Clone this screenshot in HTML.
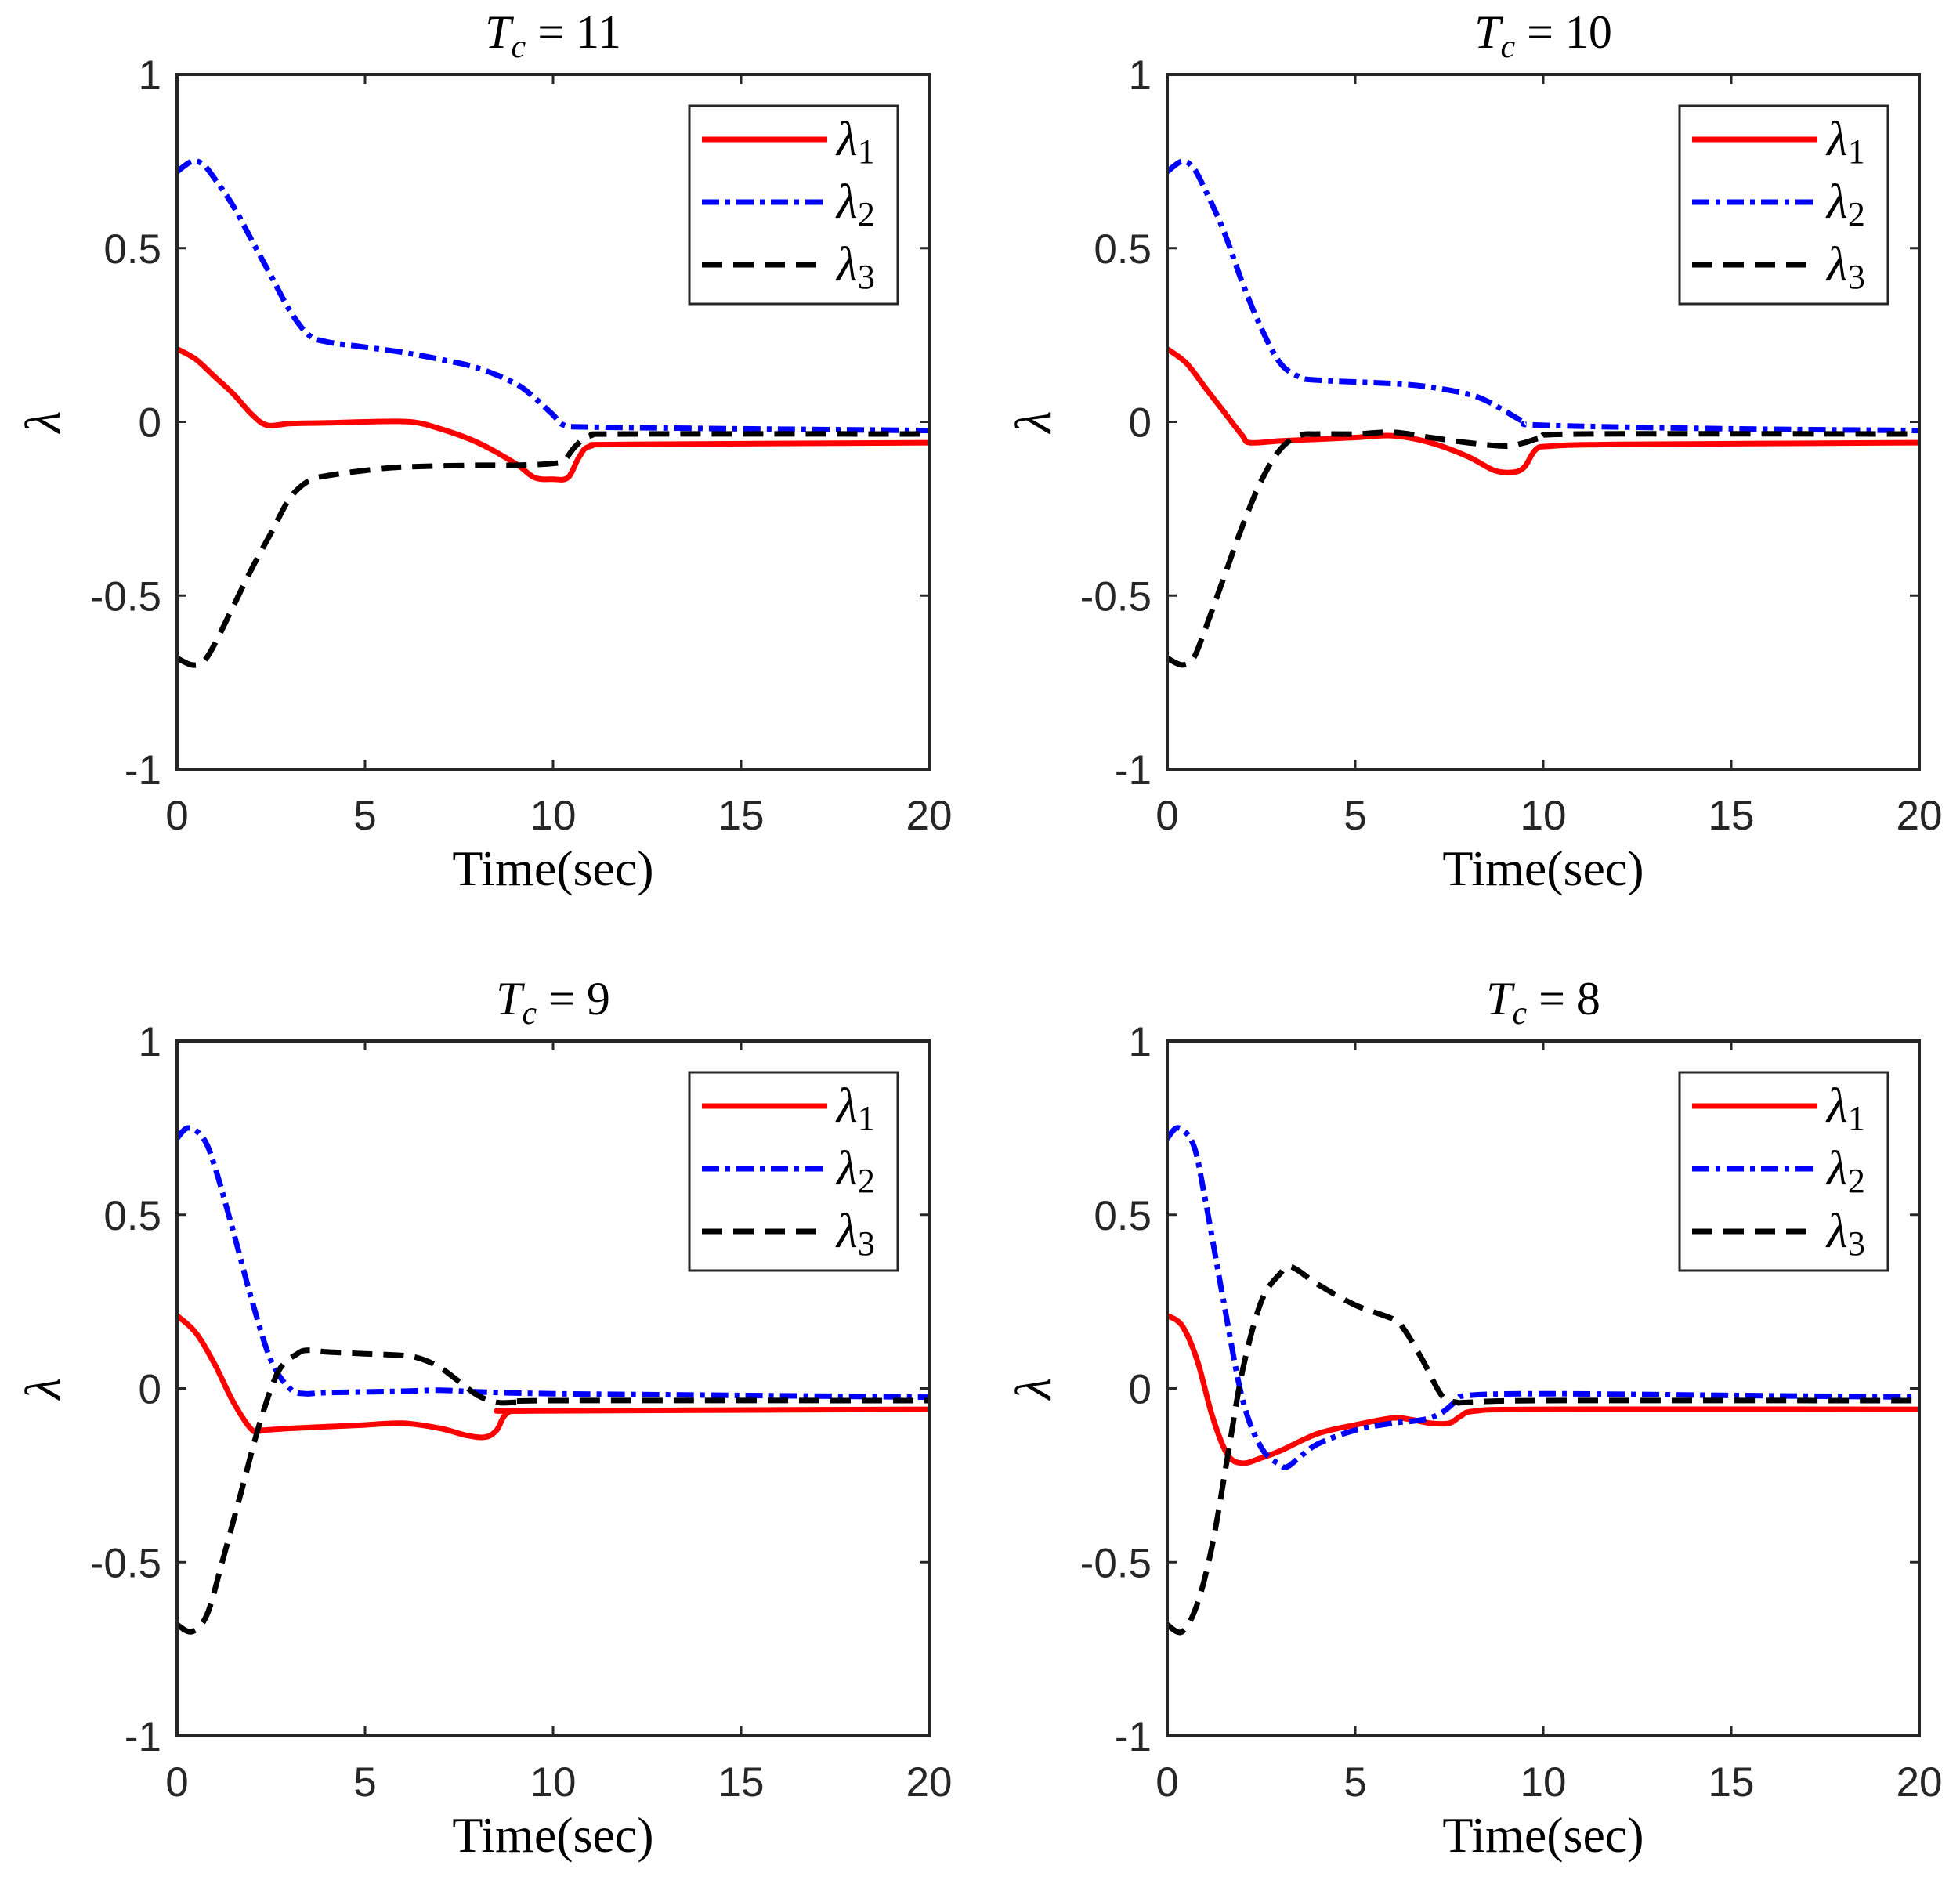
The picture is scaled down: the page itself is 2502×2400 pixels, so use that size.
<!DOCTYPE html>
<html><head><meta charset="utf-8"><style>
html,body{margin:0;padding:0;background:#fff;}
svg{display:block;}
text{font-family:"Liberation Sans",sans-serif;fill:#262626;}
.serif{font-family:"Liberation Serif",serif;fill:#000;}
</style></head><body>
<svg id="fig" width="2502" height="2400" viewBox="0 0 2502 2400" xmlns="http://www.w3.org/2000/svg"></svg>
<script>
const titles = ["11","10","9","8"];
const xTicks = [0,5,10,15,20];
const yTicks = [-1,-0.5,0,0.5,1];
const yTickLabels = ["-1","-0.5","0","0.5","1"];
// panel 1 (Tc=11)
const p1_l1 = [[0,0.21],[0.5,0.18],[1,0.13],[1.5,0.08],[2,0.02],[2.4,-0.01],[3,-0.005],[4,-0.003],[5,0],[6.2,0],[7,-0.02],[8,-0.06],[9,-0.12],[9.5,-0.16],[10,-0.165],[10.4,-0.16],[10.7,-0.1],[11,-0.07],[12,-0.065],[20,-0.06]];
const p1_l2 = [[0,0.72],[0.4,0.75],[0.7,0.74],[1,0.7],[1.5,0.62],[2,0.52],[2.5,0.42],[3,0.32],[3.5,0.25],[4,0.23],[5,0.215],[6,0.2],[7,0.18],[8,0.155],[9,0.11],[9.5,0.07],[10,0.02],[10.3,-0.01],[11,-0.015],[15,-0.02],[20,-0.025]];
const p1_l3 = [[0,-0.68],[0.4,-0.7],[0.7,-0.69],[1,-0.64],[1.5,-0.53],[2,-0.42],[2.5,-0.32],[3,-0.22],[3.5,-0.17],[4,-0.155],[5,-0.14],[6,-0.13],[8,-0.125],[9,-0.125],[10,-0.12],[10.3,-0.11],[10.6,-0.07],[11,-0.04],[12,-0.035],[20,-0.035]];
// panel 2 (Tc=10)
const p2_l1 = [[0,0.21],[0.5,0.17],[1,0.1],[1.5,0.03],[2,-0.04],[2.2,-0.06],[3,-0.055],[4,-0.05],[5,-0.045],[6,-0.04],[7,-0.06],[8,-0.1],[8.7,-0.14],[9.2,-0.145],[9.5,-0.13],[9.8,-0.08],[10.2,-0.07],[12,-0.065],[20,-0.06]];
const p2_l2 = [[0,0.72],[0.4,0.75],[0.7,0.73],[1,0.67],[1.5,0.55],[2,0.4],[2.5,0.27],[3,0.17],[3.5,0.13],[4,0.12],[6,0.11],[7,0.1],[8,0.08],[8.5,0.06],[9,0.03],[9.5,0.0],[10,-0.01],[15,-0.02],[20,-0.025]];
const p2_l3 = [[0,-0.68],[0.4,-0.7],[0.7,-0.68],[1,-0.6],[1.5,-0.45],[2,-0.3],[2.5,-0.17],[3,-0.08],[3.5,-0.04],[4,-0.035],[5,-0.035],[6,-0.03],[7,-0.045],[8,-0.06],[9,-0.07],[9.5,-0.06],[10,-0.045],[11,-0.035],[20,-0.035]];
// panel 3 (Tc=9)
const p3_l1 = [[0,0.21],[0.5,0.16],[1,0.07],[1.5,-0.04],[2,-0.12],[2.3,-0.12],[3,-0.115],[4,-0.11],[5,-0.105],[6,-0.1],[7,-0.115],[7.7,-0.135],[8.2,-0.14],[8.5,-0.12],[8.8,-0.07],[9.5,-0.065],[20,-0.06]];
const p3_l2 = [[0,0.72],[0.3,0.75],[0.7,0.72],[1,0.64],[1.5,0.45],[2,0.25],[2.5,0.08],[3,0.0],[3.4,-0.015],[4,-0.012],[6,-0.008],[7,-0.005],[8,-0.01],[10,-0.015],[15,-0.02],[20,-0.025]];
const p3_l3 = [[0,-0.68],[0.4,-0.7],[0.8,-0.65],[1.2,-0.5],[1.7,-0.3],[2.2,-0.1],[2.7,0.05],[3.2,0.1],[3.5,0.11],[4,0.105],[5,0.1],[6,0.095],[6.5,0.085],[7,0.06],[7.5,0.02],[8,-0.02],[8.5,-0.04],[9,-0.04],[10,-0.035],[20,-0.035]];
// panel 4 (Tc=8)
const p4_l1 = [[0,0.21],[0.4,0.18],[0.8,0.08],[1.2,-0.08],[1.6,-0.19],[2,-0.215],[2.5,-0.2],[3,-0.18],[4,-0.13],[5,-0.105],[6,-0.085],[6.5,-0.09],[7,-0.1],[7.5,-0.1],[7.8,-0.08],[8.2,-0.065],[10,-0.06],[20,-0.06]];
const p4_l2 = [[0,0.72],[0.3,0.75],[0.7,0.7],[1,0.55],[1.5,0.25],[2,-0.03],[2.5,-0.17],[3,-0.22],[3.2,-0.225],[3.5,-0.2],[4,-0.16],[5,-0.12],[6,-0.1],[6.8,-0.09],[7.3,-0.07],[7.7,-0.035],[8,-0.02],[10,-0.015],[15,-0.02],[20,-0.025]];
const p4_l3 = [[0,-0.68],[0.4,-0.7],[0.8,-0.62],[1.2,-0.45],[1.6,-0.2],[2,0.05],[2.5,0.25],[3,0.33],[3.3,0.35],[4,0.3],[5,0.24],[6,0.2],[6.3,0.17],[6.8,0.08],[7.3,-0.02],[7.7,-0.04],[8,-0.04],[10,-0.035],[20,-0.035]];

const series = [[p1_l1,p1_l2,p1_l3],[p2_l1,p2_l2,p2_l3],[p3_l1,p3_l2,p3_l3],[p4_l1,p4_l2,p4_l3]];
const NS="http://www.w3.org/2000/svg";
const svg=document.getElementById('fig');
function mk(tag,attrs,parent){const e=document.createElementNS(NS,tag);for(const k in attrs)e.setAttribute(k,attrs[k]);(parent||svg).appendChild(e);return e;}
function smooth(pts){
  let d="M"+pts[0][0].toFixed(1)+","+pts[0][1].toFixed(1);
  for(let i=0;i<pts.length-1;i++){
    const p0=pts[Math.max(i-1,0)],p1=pts[i],p2=pts[i+1],p3=pts[Math.min(i+2,pts.length-1)];
    const c1x=p1[0]+(p2[0]-p0[0])/6,c1y=p1[1]+(p2[1]-p0[1])/6;
    const c2x=p2[0]-(p3[0]-p1[0])/6,c2y=p2[1]-(p3[1]-p1[1])/6;
    d+=` C${c1x.toFixed(1)},${c1y.toFixed(1)} ${c2x.toFixed(1)},${c2y.toFixed(1)} ${p2[0].toFixed(1)},${p2[1].toFixed(1)}`;
  }
  return d;
}
const styles=[{c:"#ff0000",d:""},{c:"#0000ff",d:"22 8 6 8"},{c:"#000000",d:"26 14"}];
const lx=[226,1490], ly=[95,1329], W=960, H=887;
const names=["lambda-1","lambda-2","lambda-3"];
for(let p=0;p<4;p++){
  const L=lx[p%2], T=ly[Math.floor(p/2)];
  const sx=v=>L+v/20*W, sy=v=>T+(1-v)/2*H;
  const g=mk('g',{});
  
  
  mk('rect',{x:L,y:T,width:W,height:H,fill:"#fff"},g);
  series[p].forEach((s,i)=>{
    const pl=mk('path',{d:smooth(s.map(q=>[sx(q[0]),sy(q[1])])),fill:"none",stroke:styles[i].c,"stroke-width":7,"stroke-linejoin":"round"},g);
    if(styles[i].d)pl.setAttribute('stroke-dasharray',styles[i].d);
    
    
  });
  mk('rect',{x:L,y:T,width:W,height:H,fill:"none",stroke:"#262626","stroke-width":4},g);
  xTicks.forEach(v=>{
    const x=sx(v);
    mk('line',{x1:x,y1:T+H,x2:x,y2:T+H-12,stroke:"#262626","stroke-width":3},g);
    mk('line',{x1:x,y1:T,x2:x,y2:T+12,stroke:"#262626","stroke-width":3},g);
    const t=mk('text',{x:x,y:T+H+77,"text-anchor":"middle","font-size":53},g);t.textContent=v;
    
    
  });
  yTicks.forEach((v,i)=>{
    const y=sy(v);
    mk('line',{x1:L,y1:y,x2:L+12,y2:y,stroke:"#262626","stroke-width":3},g);
    mk('line',{x1:L+W,y1:y,x2:L+W-12,y2:y,stroke:"#262626","stroke-width":3},g);
    const t=mk('text',{x:L-20,y:y+19,"text-anchor":"end","font-size":53},g);t.textContent=yTickLabels[i];
    
    
  });
  const tt=mk('text',{x:L+W/2,y:T-34,"text-anchor":"middle","font-size":60,class:"serif"},g);
  tt.innerHTML='<tspan font-style="italic">T</tspan><tspan font-style="italic" font-size="42" dy="12">c</tspan><tspan dy="-12"> = '+titles[p]+'</tspan>';
  
  
  const xl=mk('text',{x:L+W/2,y:T+H+148,"text-anchor":"middle","font-size":64,class:"serif"},g);xl.textContent="Time(sec)";
  
  
  const yl=mk('text',{x:0,y:0,"text-anchor":"middle","font-size":64,"font-style":"italic",class:"serif",transform:`translate(${L-150},${T+H/2}) rotate(-90)`},g);yl.textContent="λ";
  
  
  const lg=mk('g',{},g);
  
  
  const bx=L+654, by=T+40;
  mk('rect',{x:bx,y:by,width:266,height:253,fill:"#fff",stroke:"#262626","stroke-width":3},lg);
  for(let i=0;i<3;i++){
    const y=by+43+i*80;
    const ln=mk('line',{x1:bx+16,y1:y,x2:bx+176,y2:y,stroke:styles[i].c,"stroke-width":7},lg);
    if(styles[i].d)ln.setAttribute('stroke-dasharray',styles[i].d);
    
    
    const t=mk('text',{x:bx+188,y:y+20,"font-size":62,class:"serif"},lg);
    t.innerHTML='<tspan font-style="italic">λ</tspan><tspan font-size="44" dy="10">'+(i+1)+'</tspan>';
    
    
  }
}
</script>
</body></html>
